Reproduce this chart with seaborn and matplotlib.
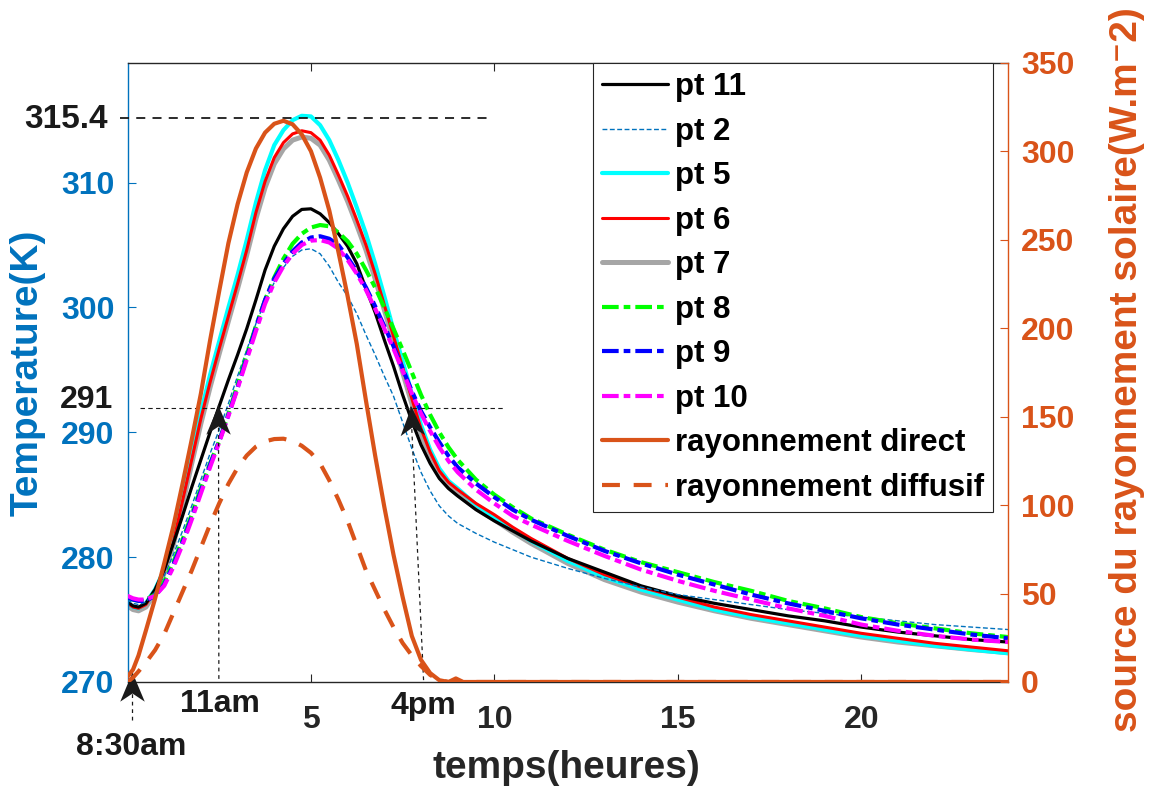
import matplotlib
matplotlib.use("Agg")
import matplotlib.pyplot as plt
import seaborn as sns
import numpy as np
from matplotlib.path import Path
from matplotlib.markers import MarkerStyle
from matplotlib.transforms import Affine2D

# ---------------- data ----------------
hours = [0, 0.15, 0.3, 0.5, 0.75, 1.0, 1.25, 1.5, 1.75, 2.0, 2.25, 2.5, 2.75, 3.0,
         3.25, 3.5, 3.75, 4.0, 4.25, 4.5, 4.75, 5.0, 5.25, 5.5, 5.75, 6.0, 6.25,
         6.5, 6.75, 7.0, 7.25, 7.5, 7.75, 8.0, 8.25, 8.5, 8.75, 9.0, 9.5, 10.0,
         10.5, 11, 12, 13, 14, 15, 16, 17, 18, 19, 20, 21, 22, 23, 24]

pt11 = [276.4, 276.1, 276.0, 276.3, 277.4, 279.0, 281.1, 283.3, 285.6, 287.8, 290.0,
        292.1, 294.2, 296.2, 298.3, 300.6, 303.0, 304.9, 306.3, 307.3, 307.85, 307.9,
        307.5, 306.8, 305.9, 304.9, 303.5, 301.5, 299.6, 297.4, 295.3, 293.0, 290.9,
        289.0, 287.5, 286.3, 285.5, 284.9, 283.8, 282.9, 282.1, 281.3, 279.9, 278.8,
        277.7, 276.9, 276.3, 275.8, 275.3, 274.9, 274.4, 274.0, 273.7, 273.4, 273.2]
pt2 = [276.6, 276.3, 276.2, 276.4, 277.2, 278.5, 280.2, 282.1, 284.1, 286.2, 288.3,
       290.2, 292.3, 294.5, 296.6, 298.7, 300.5, 302.0, 303.2, 304.1, 304.6, 304.7,
       304.3, 303.3, 302.0, 300.9, 299.5, 297.8, 296.2, 294.5, 292.9, 290.8, 288.7,
       286.8, 285.3, 284.1, 283.3, 282.7, 281.9, 281.2, 280.6, 280.0, 279.1, 278.3,
       277.6, 277.0, 276.6, 276.2, 275.8, 275.5, 275.2, 274.9, 274.6, 274.4, 274.2]
pt5 = [276.3, 276.0, 275.9, 276.3, 277.4, 279.0, 281.4, 284.8, 288.2, 291.6, 294.6,
       297.3, 300.0, 302.6, 305.4, 308.4, 311.0, 313.0, 314.2, 315.0, 315.35, 315.3,
       314.6, 313.4, 311.8, 310.0, 308.0, 305.9, 303.5, 300.9, 298.2, 295.7, 293.1,
       290.6, 288.6, 287.1, 286.1, 285.5, 284.2, 283.2, 282.2, 281.3, 279.7, 278.4,
       277.4, 276.6, 275.8, 275.2, 274.7, 274.2, 273.7, 273.3, 272.9, 272.6, 272.3]
pt6 = [276.3, 276.0, 275.9, 276.2, 277.3, 278.9, 281.2, 284.5, 287.8, 291.1, 294.0,
       296.7, 299.3, 301.9, 304.6, 307.6, 310.1, 312.0, 313.2, 313.9, 314.15, 314.0,
       313.4, 312.2, 310.6, 308.9, 307.0, 305.0, 302.7, 300.2, 297.7, 295.2, 292.7,
       290.3, 288.4, 286.9, 286.0, 285.4, 284.3, 283.4, 282.4, 281.5, 279.9, 278.6,
       277.6, 276.8, 276.0, 275.4, 274.9, 274.4, 273.9, 273.5, 273.1, 272.8, 272.5]
pt7 = [276.1, 275.8, 275.7, 276.0, 277.1, 278.7, 281.0, 284.2, 287.5, 290.7, 293.6,
       296.3, 298.9, 301.5, 304.2, 307.1, 309.6, 311.5, 312.7, 313.4, 313.65, 313.55,
       313.0, 311.8, 310.2, 308.5, 306.6, 304.6, 302.3, 299.8, 297.3, 294.8, 292.3,
       289.9, 288.0, 286.5, 285.6, 285.0, 283.9, 283.0, 282.0, 281.1, 279.5, 278.2,
       277.2, 276.4, 275.7, 275.1, 274.6, 274.1, 273.6, 273.2, 272.9, 272.6, 272.35]
pt8 = [276.8, 276.6, 276.5, 276.6, 277.0, 278.0, 279.6, 281.4, 283.4, 285.5, 287.5,
       289.3, 291.5, 293.8, 296.2, 298.5, 300.6, 302.4, 303.9, 305.1, 305.9, 306.4,
       306.6, 306.5, 306.0, 305.3, 304.3, 303.0, 301.6, 300.0, 298.3, 296.6, 294.8,
       293.0, 291.4, 290.0, 288.8, 287.8, 286.2, 285.0, 284.0, 283.1, 281.8, 280.6,
       279.6, 278.8, 278.0, 277.3, 276.5, 275.9, 275.2, 274.7, 274.3, 273.9, 273.6]
pt9 = [276.8, 276.6, 276.5, 276.5, 276.9, 277.8, 279.4, 281.2, 283.2, 285.3, 287.4,
       289.3, 291.4, 293.6, 296.0, 298.4, 300.6, 302.3, 303.5, 304.5, 305.2, 305.6,
       305.7, 305.5, 305.0, 304.0, 302.9, 301.6, 300.1, 298.5, 296.9, 295.1, 293.3,
       291.7, 290.4, 289.2, 288.1, 287.2, 285.9, 284.8, 283.8, 283.0, 281.7, 280.5,
       279.5, 278.6, 277.8, 277.0, 276.3, 275.7, 275.1, 274.6, 274.2, 273.8, 273.5]
pt10 = [276.9, 276.7, 276.6, 276.6, 276.9, 277.7, 279.2, 281.0, 283.0, 285.1, 287.2,
        289.2, 291.3, 293.5, 295.8, 298.1, 300.3, 302.0, 303.3, 304.3, 305.0, 305.35,
        305.4, 305.2, 304.7, 303.8, 302.7, 301.4, 299.9, 298.3, 296.7, 294.9, 293.1,
        291.5, 290.1, 288.8, 287.7, 286.8, 285.4, 284.3, 283.3, 282.6, 281.3, 280.1,
        279.0, 278.1, 277.3, 276.6, 275.9, 275.3, 274.6, 274.1, 273.7, 273.4, 273.2]

rad_hours = hours[:37] + [8.95, 9.15, 24]
direct = [3, 7, 15, 29, 47, 67, 88, 112, 137, 163, 193, 221, 248, 270, 288, 301.5,
          310.5, 315.5, 317.2, 315.2, 309.5, 300, 285, 266.5, 243, 218, 191, 159, 128,
          99, 72, 48, 26, 12.5, 5, 1, 0, 2.0, 0, 0]
diffuse = [0, 2.5, 6, 11, 18, 27, 39, 51, 63, 76, 89, 101, 112, 121, 128, 133, 136,
           137.3, 137.5, 136.2, 133.5, 129.5, 123.5, 114, 103, 91, 77, 63, 52, 41, 31,
           22, 15, 9, 4, 1, 0, 0, 0, 0]

series_names = ["pt 11", "pt 2", "pt 5", "pt 6", "pt 7", "pt 8", "pt 9", "pt 10"]
temps = [pt11, pt2, pt5, pt6, pt7, pt8, pt9, pt10]
rad_names = ["rayonnement direct", "rayonnement diffusif"]

xticks = [5, 10, 15, 20]
yticks_left = [270, 280, 290, 300, 310]
yticks_right = [0, 50, 100, 150, 200, 250, 300, 350]

# annotations
ref_levels = [315.2, 291.95]
ref_labels = ["315.4", "291"]
ref_spans = [(-0.2, 9.9), (0.35, 10.3)]
time_labels = ["8:30am", "11am", "4pm"]
arrow_tips = [(0.11, 270.8), (2.48, 292.2), (7.72, 292.1)]
arrow_bases = [(0.11, 266.96), (2.49, 270.25), (8.07, 270.15)]

# ---------------- styling ----------------
sns.set_theme(style="ticks")
plt.rcParams["font.family"] = ["Liberation Sans", "DejaVu Sans"]
plt.rcParams["font.weight"] = "bold"
plt.rcParams["axes.labelweight"] = "bold"

BLUE = "#0072BD"
ORANGE = "#D95319"
DARK = "#262626"

line_styles = {
    "pt 11": dict(color="#000000", lw=2.3, ls="-", z=2.3),
    "pt 2": dict(color="#0072BD", lw=1.0, ls=(0, (3.5, 1.8)), z=2.4),
    "pt 5": dict(color="#00FFFF", lw=3.0, ls="-", z=2.1),
    "pt 6": dict(color="#FF0000", lw=2.2, ls="-", z=2.2),
    "pt 7": dict(color="#A6A6A6", lw=3.6, ls="-", z=2.0),
    "pt 8": dict(color="#00FF00", lw=3.0, ls=(0, (4, 1.2, 1.6, 1.2)), z=2.5),
    "pt 9": dict(color="#0000FF", lw=3.0, ls=(0, (4, 1.2, 1.6, 1.2)), z=2.6),
    "pt 10": dict(color="#FF00FF", lw=3.0, ls=(0, (4, 1.2, 1.6, 1.2)), z=2.7),
}

fig = plt.figure(figsize=(11.55, 7.92), dpi=100)
ax = fig.add_axes([0.1104, 0.1389, 0.7623, 0.7819])
ax2 = ax.twinx()

handles = []
for name, vals in zip(series_names, temps):
    st = line_styles[name]
    sns.lineplot(x=hours, y=vals, ax=ax, color=st["color"], linewidth=st["lw"],
                 linestyle=st["ls"], zorder=st["z"], legend=False)
    handles.append(ax.lines[-1])

sns.lineplot(x=rad_hours, y=direct, ax=ax2, color=ORANGE, linewidth=3.0,
             linestyle="-", legend=False)
handles.append(ax2.lines[-1])
sns.lineplot(x=rad_hours, y=diffuse, ax=ax2, color=ORANGE, linewidth=3.0,
             linestyle=(0, (4.3, 3.3)), legend=False)
handles.append(ax2.lines[-1])

ax.set_xlim(0, 24)
ax.set_ylim(270, 319.6)
ax2.set_ylim(0, 350)

# spines
for s in ["top", "bottom"]:
    ax.spines[s].set_color(DARK)
    ax.spines[s].set_linewidth(1.0)
ax.spines["left"].set_color(BLUE)
ax.spines["left"].set_linewidth(1.0)
ax.spines["right"].set_visible(False)
for s in ["left", "top", "bottom"]:
    ax2.spines[s].set_visible(False)
ax2.spines["right"].set_color(ORANGE)
ax2.spines["right"].set_linewidth(1.0)

# ticks
ax.set_xticks(xticks)
ax.set_yticks(yticks_left)
ax2.set_yticks(yticks_right)
ax.tick_params(axis="x", which="both", direction="in", top=True, bottom=True,
               length=6, width=0.8, color=DARK, labelcolor=DARK, labelsize=23, pad=16.5)
ax.tick_params(axis="y", direction="in", left=True, right=False, length=6, width=0.8,
               color=BLUE, labelcolor=BLUE, labelsize=23, pad=9.5)
ax2.tick_params(axis="y", direction="in", right=True, left=False, length=6, width=0.8,
                color=ORANGE, labelcolor=ORANGE, labelsize=23, pad=9.5)

# axis labels
ax.set_xlabel("temps(heures)", fontsize=28, color=DARK, va="center", ha="center")
ax.xaxis.set_label_coords(0.499, -0.139)
ax.set_ylabel("Temperature(K)", fontsize=28, color=BLUE, va="center", ha="center")
ax.yaxis.set_label_coords(-0.114, 0.5)
ax2.set_ylabel("source du rayonnement solaire(W.m\u207b2)", fontsize=28, color=ORANGE,
               va="center", ha="center")
ax2.yaxis.set_label_coords(1.1357, 0.505)

# reference dashed lines and their labels
ax.plot(list(ref_spans[0]), [ref_levels[0]] * 2, color="k", lw=1.3,
        linestyle=(0, (5, 4)), clip_on=False, zorder=3)
ax.plot(list(ref_spans[1]), [ref_levels[1]] * 2, color="k", lw=0.8,
        linestyle=(0, (4, 3)), clip_on=False, zorder=3)
ax.text(-1.69, 314.37, ref_labels[0], ha="center", va="baseline", fontsize=24, color="k")
ax.text(-1.11, ref_levels[1], ref_labels[1], ha="center", va="baseline", fontsize=23,
        color="k")

# time arrows: dashed shaft + concave (MATLAB-like) head
head_path = Path([(0, 0), (-0.42, -1), (0, -0.72), (0.42, -1), (0, 0)],
                 [Path.MOVETO, Path.LINETO, Path.LINETO, Path.LINETO, Path.CLOSEPOLY])
for (tx, ty), (bx, by) in zip(arrow_tips, arrow_bases):
    ax.plot([bx, tx], [by, ty], color="k", lw=0.9, linestyle=(0, (3, 3)),
            clip_on=False, zorder=3)
    p_tip = ax.transData.transform((tx, ty))
    p_base = ax.transData.transform((bx, by))
    d = p_tip - p_base
    ang = np.degrees(np.arctan2(d[1], d[0])) - 90.0
    mk = MarkerStyle(head_path, transform=Affine2D().rotate_deg(ang))
    ax.plot([tx], [ty], marker=mk, markersize=42, color="k", markeredgewidth=0,
            linestyle="none", clip_on=False, zorder=4)

ax.text(0.10, 264.15, time_labels[0], ha="center", va="baseline", fontsize=23, color="k")
ax.text(2.52, 267.62, time_labels[1], ha="center", va="baseline", fontsize=23, color="k")
ax.text(8.06, 267.4, time_labels[2], ha="center", va="baseline", fontsize=23, color="k")

# legend
leg = ax2.legend(handles, series_names + rad_names, loc="upper right",
                 bbox_to_anchor=(0.983, 1.0), borderaxespad=0, frameon=True,
                 fancybox=False, framealpha=1, edgecolor=DARK, fontsize=22.5,
                 handlelength=2.1, handletextpad=0.21, labelspacing=0.465,
                 borderpad=0.3, labelcolor="black")
leg.get_frame().set_linewidth(0.8)

fig.savefig("out.png", dpi=100)
